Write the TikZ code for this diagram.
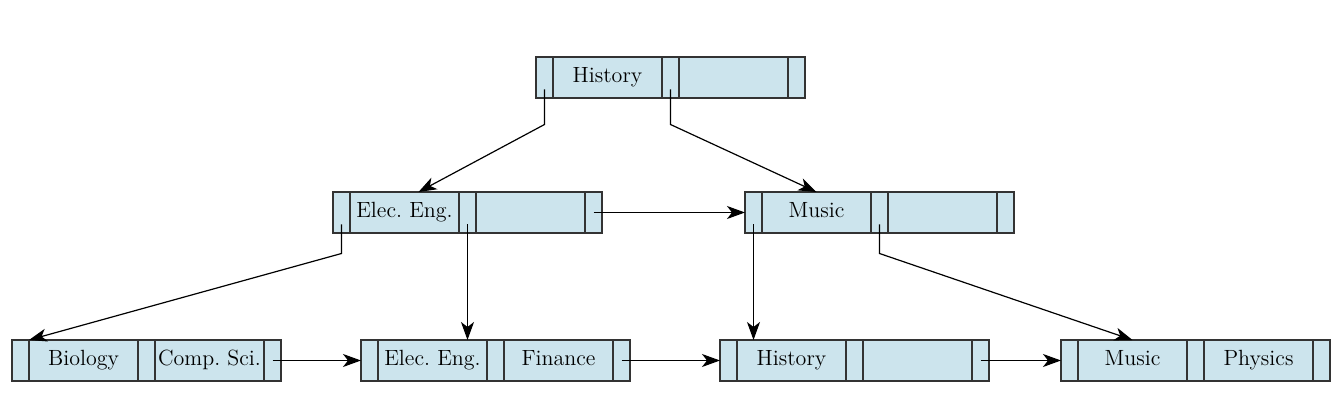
\documentclass[tikz,border=0pt]{standalone}
\usepackage{tikz}
\usetikzlibrary{arrows.meta, positioning, calc}
\usepackage{xcolor}
\definecolor{celeste}{RGB}{204,228,237}
\newcommand{\nodoB}[4]{
  \node[ptr, anchor=north west] (#1p1) at (#2) {};
  \node[chiave, right=0pt of #1p1] (#1k1) {#3};
  \node[ptr, right=0pt of #1k1] (#1p2) {};
  \node[chiave, right=0pt of #1p2] (#1k2) {#4};
  \node[ptr, right=0pt of #1k2] (#1p3) {};
}
\tikzset{
  cella/.style = {draw = black!80, fill = celeste, line width = 0.6pt, outer sep = 0pt, inner sep = 0.5pt, minimum height = 20.5pt},
  ptr/.style = {cella, minimum width = 8.5pt},
  chiave/.style = {cella, minimum width = 54.5pt, text height = 1.7ex, text depth = 0.5ex, font = \fontsize{11}{13}\selectfont},
  freccia/.style = {line width = 0.6pt, -{Stealth[length = 9pt, width = 6.5pt, inset = 2.5pt]}}
}

\begin{document}
\begin{tikzpicture}[x = 0.5pt, y = -0.5pt]
    \useasboundingbox (0,0) rectangle (1340,400);
    % Radice
    \nodoB{r}{536,57}{History}{}
    % Livello intermedio
    \nodoB{a}{333,192}{Elec.~Eng.}{}
    \nodoB{b}{745,192}{Music}{}
    % Foglie
    \nodoB{f}{12,340}{Biology}{Comp.~Sci.}
    \nodoB{g}{361,340}{Elec.~Eng.}{Finance}
    \nodoB{h}{720,340}{History}{}
    \nodoB{l}{1061,340}{Music}{Physics}
    % Puntatori dalla radice
    \draw[freccia] ([yshift = -6pt]rp1.center) -- ++(0,35) -- ([xshift = 7pt]ak1.north);
    \draw[freccia] ([yshift = -6pt]rp2.center) -- ++(0,35) -- (bk1.north);
    % Puntatori dal livello intermedio
    \draw[freccia] ([yshift = -6pt]ap1.center) -- ++(0,29) -- (fp1.north east);
    \draw[freccia] ([yshift = -6pt]ap2.center) -- (ap2.center |- gk1.north);
    \draw[freccia] ([yshift = -6pt]bp1.center) -- (bp1.center |- hk1.north);
    \draw[freccia] ([yshift = -6pt]bp2.center) -- ++(0,29) -- (lk1.north);
    % Collegamenti tra fratelli
    \draw[freccia] (ap3.center) -- (bp1.west);
    \draw[freccia] (fp3.center) -- (gp1.west);
    \draw[freccia] (gp3.center) -- (hp1.west);
    \draw[freccia] (hp3.center) -- (lp1.west);
\end{tikzpicture}
\end{document}
